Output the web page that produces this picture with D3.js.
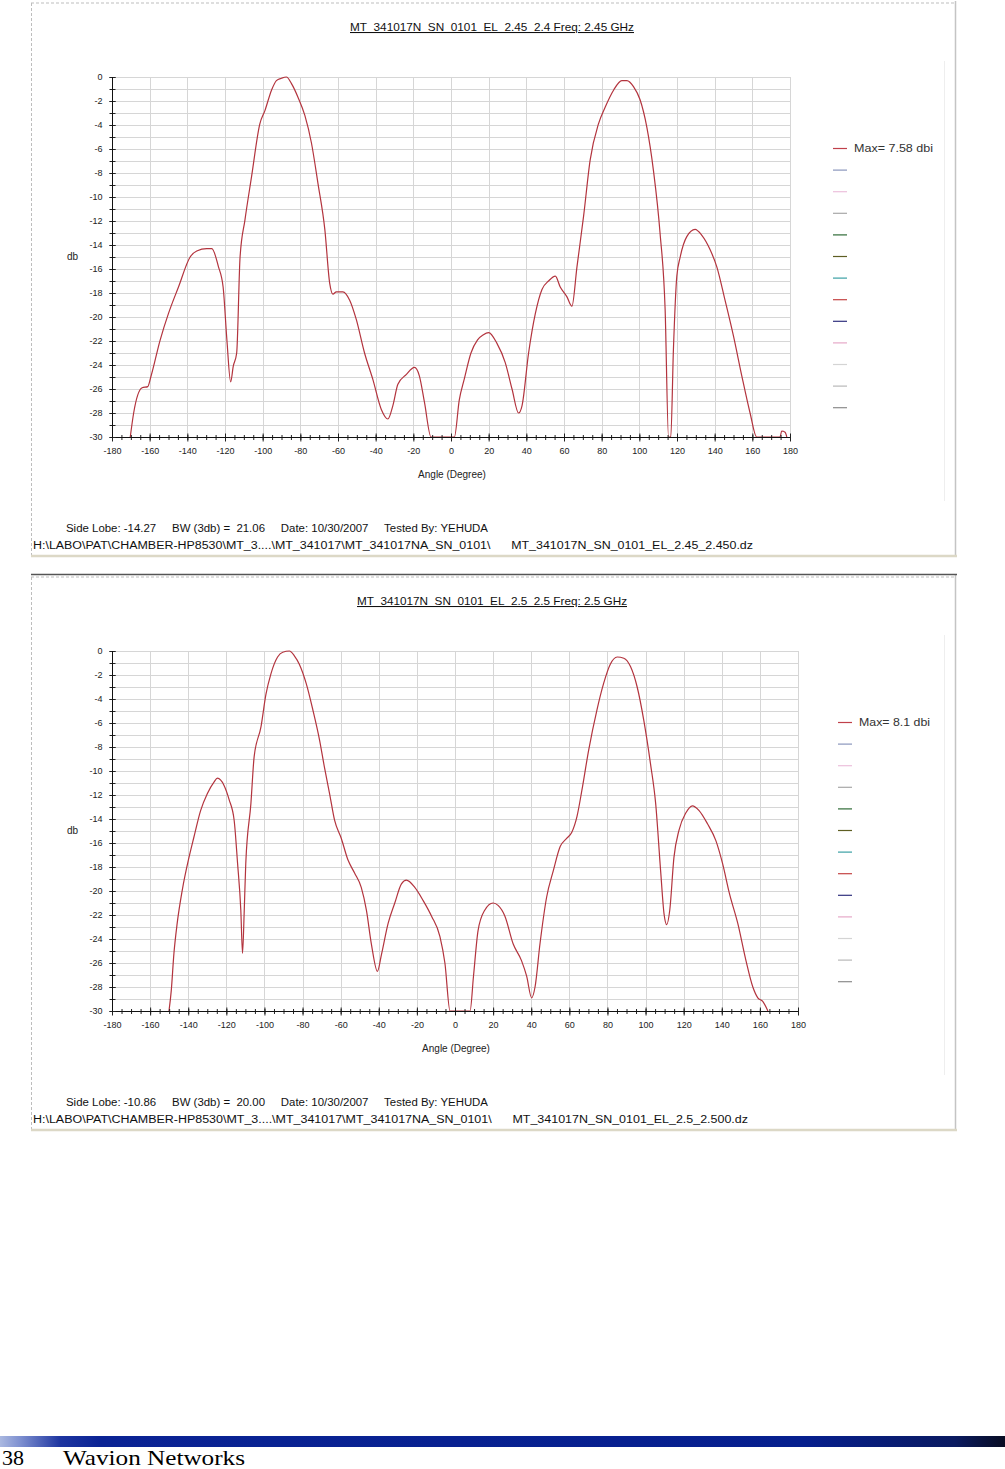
<!DOCTYPE html>
<html>
<head>
<meta charset="utf-8">
<script src="https://cdn.jsdelivr.net/npm/d3@7/dist/d3.min.js"></script>
<style>
  body { margin: 0; background: #fff; }
  svg { display: block; }
  .tick text { font-family: "Liberation Sans", Arial, sans-serif; font-size: 9px; fill: #222; }
</style>
</head>
<body>
<div id="page"></div>
<script>
// ---- data ----
var angleTicks = d3.range(-180, 181, 20),
    gainTicks = d3.range(-30, 1, 2);

// 2.45 GHz pattern (angle in degrees, gain in dB normalised)
var angle245 = [-170.3,-168.5,-164,-161,-159.4,-154.4,-150,-144.7,-138.5,-135,-129.7,-127,-123.5,-121,-119,-117,-115.6,-113.8,-112,-109.4,-105.9,-101.5,-98.8,-95.3,-92.7,-90,-87.4,-84.7,-81.2,-77.6,-74.1,-70.6,-67,-64.4,-62.7,-60.9,-57.4,-53.8,-50.3,-45.9,-41.5,-37,-33.5,-30.9,-28.2,-23.8,-19.4,-16.8,-14.1,-10.6,1.8,4.4,7,10.6,14.1,17,20,24.4,28.8,32.4,35.9,37.7,41.2,44.8,48.3,51.8,55.4,58,61.5,64.2,66.9,70.4,73.9,78.3,81.9,86.3,90.7,93.4,96.9,100.4,104,107.5,111,113.7,115.5,116.7,118.1,119.9,121.7,125.2,129.6,133.2,137.6,141.1,145.5,150,154.4,158.8,162.3,174.7,175.6,177.4,178.3];
var gain245 = [-30,-28,-25.9,-25.8,-25,-21.9,-19.7,-17.5,-15,-14.5,-14.3,-14.3,-15.8,-17.5,-21.9,-25.4,-24.1,-23,-15,-11.9,-8.3,-3.9,-2.8,-1.1,-0.3,-0.1,0,-0.55,-1.7,-3.2,-5.5,-8.9,-12.7,-17.2,-18.1,-17.9,-17.9,-18.6,-20.2,-23,-25.2,-27.7,-28.5,-27.4,-25.6,-24.8,-24.2,-24.9,-27.1,-30,-30,-26.9,-25.2,-23,-21.9,-21.5,-21.3,-22.2,-23.8,-26,-28,-27.4,-23,-19.7,-17.7,-17,-16.6,-17.5,-18.3,-19.1,-15.8,-11.6,-6.9,-3.9,-2.5,-1.1,-0.3,-0.3,-0.8,-1.9,-4.2,-7.8,-13,-19.4,-30,-30,-22.7,-16.6,-15,-13.3,-12.7,-13.2,-14.4,-15.8,-18.6,-21.6,-24.9,-28,-30,-30,-29.5,-29.6,-30];

// 2.5 GHz pattern
var angle25 = [-150.1,-148.9,-147.5,-145.8,-143.1,-139.6,-137,-133.5,-130,-126.4,-124.7,-121.2,-118.5,-115.9,-114.1,-112.4,-111.5,-110.6,-109.8,-107.1,-105.4,-101.8,-99.2,-96.6,-93.1,-90.4,-86.9,-84.3,-81.7,-78.1,-74.6,-71.1,-68.5,-65.8,-63.2,-59.7,-56.2,-52.7,-49.2,-46.5,-43.9,-40.7,-38.6,-35.1,-31.6,-28.1,-25.5,-21.1,-16.7,-12.3,-7.9,-5.3,-2.6,7.9,9.7,12.1,15.6,20,22.6,26.2,30.5,34.9,37.6,40.2,42,44.6,48.1,51.6,55.2,58.7,61.3,64,66.6,70.1,74.5,78,81.5,85.1,88.6,92.1,95.6,99.1,102.6,105.3,107.9,109.7,111.1,112.7,114.9,117.6,121.1,124.6,128.1,132.5,136.9,140.4,144,148.4,152.7,156.3,158.9,161.5,164.2];
var gain25 = [-30,-28.3,-25.2,-22.7,-19.9,-17.2,-15.5,-13.3,-11.9,-10.9,-10.6,-11.2,-12.4,-14.1,-17.7,-21.6,-25.2,-21.6,-17.7,-12.7,-8.8,-6.3,-3.6,-1.9,-0.5,-0.1,0,-0.4,-1.1,-2.7,-4.9,-7.4,-9.7,-11.9,-14.1,-15.6,-17.4,-18.5,-19.7,-21.6,-24.4,-26.7,-25.3,-22.7,-21,-19.4,-19.1,-19.7,-20.8,-22.1,-23.8,-26,-30,-30,-27.1,-23.3,-21.6,-21,-21.2,-22.1,-24.4,-25.8,-27.1,-28.9,-28,-24.4,-20.5,-18.3,-16.3,-15.6,-15.1,-13.8,-11.6,-8.3,-4.9,-2.7,-1.1,-0.5,-0.6,-1.3,-3,-5.8,-9.4,-12.7,-18.3,-21.9,-22.8,-21.6,-17.2,-14.9,-13.5,-12.9,-13.3,-14.4,-15.8,-17.7,-20.2,-22.7,-25.8,-28,-28.9,-29.2,-30];

var legendColors = ["#c0404a","#8a96bc","#ecc0dc","#a8a8a8","#2e6a36","#5e5e22","#3aa0a4","#c44444","#30307e","#e6a8c8","#d4d4d4","#b8b8b8","#8c8c8c"];

var titles = ["MT_341017N_SN_0101_EL_2.45_2.4  Freq: 2.45 GHz", "MT_341017N_SN_0101_EL_2.5_2.5  Freq: 2.5 GHz"];
var maxLabels = ["Max= 7.58 dbi", "Max= 8.1 dbi"];
var infoLines = ["Side Lobe: -14.27     BW (3db) =  21.06     Date: 10/30/2007     Tested By: YEHUDA",
                 "Side Lobe: -10.86     BW (3db) =  20.00     Date: 10/30/2007     Tested By: YEHUDA"];
var pathLines = ["H:\\LABO\\PAT\\CHAMBER-HP8530\\MT_3....\\MT_341017\\MT_341017NA_SN_0101\\      MT_341017N_SN_0101_EL_2.45_2.450.dz",
                 "H:\\LABO\\PAT\\CHAMBER-HP8530\\MT_3....\\MT_341017\\MT_341017NA_SN_0101\\      MT_341017N_SN_0101_EL_2.5_2.500.dz"];

var W = 1005, H = 1469;
var svg = d3.select("#page").append("svg").attr("width", W).attr("height", H);
svg.append("rect").attr("width", W).attr("height", H).attr("fill", "#fff");

var font = "'Liberation Sans', Arial, sans-serif";
var fmt = function(d) { return String(d); };   // plain hyphen minus like the original

function drawPanel(p) {
    var top = p.top;
    var g = svg.append("g");

    // panel frame
    g.append("line").attr("x1", 31).attr("x2", 956).attr("y1", top + 2).attr("y2", top + 2)
        .attr("stroke", "#bdbdbd").attr("stroke-dasharray", "3,2");
    g.append("line").attr("x1", 31.5).attr("x2", 31.5).attr("y1", top + 2).attr("y2", top + 556)
        .attr("stroke", "#bdbdbd").attr("stroke-dasharray", "3,2");
    g.append("line").attr("x1", 955.5).attr("x2", 955.5).attr("y1", top).attr("y2", top + 556)
        .attr("stroke", "#c4c4c4").attr("stroke-width", 1.5);
    g.append("line").attr("x1", 31).attr("x2", 957).attr("y1", top + 555).attr("y2", top + 555)
        .attr("stroke", "#dcd8c6").attr("stroke-width", 2.5);
    if (p.topLine) {
        g.append("line").attr("x1", 31).attr("x2", 957).attr("y1", top - 0.5).attr("y2", top - 0.5)
            .attr("stroke", "#555").attr("stroke-width", 1.5);
    }
    // faint legend area edge
    g.append("line").attr("x1", 944.5).attr("x2", 944.5).attr("y1", top + 60).attr("y2", top + 500)
        .attr("stroke", "#eeeeee");

    var x = d3.scaleLinear().domain([-180, 180]).range([112, p.right]);
    var y = d3.scaleLinear().domain([-30, 0]).range([p.y0, p.y0 - 360]);

    // title
    g.append("text").attr("x", (350 + 634) / 2).attr("y", top + 30)
        .attr("text-anchor", "middle").attr("font-family", font).attr("font-size", 10.5)
        .attr("text-decoration", "underline").attr("fill", "#111")
        .attr("textLength", p.titleLen).attr("lengthAdjust", "spacingAndGlyphs")
        .text(p.title);

    // grid
    var grid = g.append("g").attr("stroke", "#d6d6d6").attr("stroke-width", 1);
    grid.selectAll("line.h").data(d3.range(-30, 1, 1)).enter().append("line")
        .attr("x1", x(-180)).attr("x2", x(180))
        .attr("y1", function(d) { return Math.round(y(d)) + 0.5; })
        .attr("y2", function(d) { return Math.round(y(d)) + 0.5; });
    grid.selectAll("line.v").data(angleTicks).enter().append("line")
        .attr("y1", y(0)).attr("y2", y(-30))
        .attr("x1", function(d) { return Math.round(x(d)) + 0.5; })
        .attr("x2", function(d) { return Math.round(x(d)) + 0.5; });

    // pattern curve
    var pts = p.angle.map(function(a, i) { return [a, p.gain[i]]; });
    var line = d3.line().x(function(d) { return x(d[0]); }).y(function(d) { return y(d[1]); })
        .curve(d3.curveMonotoneX);
    g.append("path").datum(pts).attr("d", line).attr("fill", "none")
        .attr("stroke", "#b3343e").attr("stroke-width", 1.2);

    // x axis: minor and major ticks crossing the baseline
    var y0 = Math.round(y(-30)) + 0.5;
    g.append("g").attr("transform", "translate(0," + (y0 - 2.5) + ")")
        .call(d3.axisBottom(x).tickValues(d3.range(-180, 181, 5)).tickSize(5).tickFormat(""))
        .call(function(s) { s.select(".domain").remove(); s.selectAll("line").attr("stroke", "#222"); });
    g.append("g").attr("transform", "translate(0," + (y0 - 4) + ")")
        .call(d3.axisBottom(x).tickValues(angleTicks).tickSize(8).tickPadding(6).tickFormat(fmt))
        .call(function(s) { s.select(".domain").remove(); s.selectAll("line").attr("stroke", "#222"); });
    g.append("line").attr("x1", x(-180)).attr("x2", x(180)).attr("y1", y0).attr("y2", y0)
        .attr("stroke", "#111");

    // y axis
    var x0 = Math.round(x(-180)) + 0.5;
    g.append("g").attr("transform", "translate(" + (x0 + 3) + ",0)")
        .call(d3.axisLeft(y).tickValues(d3.range(-30, 1, 1)).tickSize(6).tickFormat(""))
        .call(function(s) { s.select(".domain").remove(); s.selectAll("line").attr("stroke", "#222"); });
    g.append("g").attr("transform", "translate(" + (x0 + 3) + ",0)")
        .call(d3.axisLeft(y).tickValues(gainTicks).tickSize(6).tickPadding(7).tickFormat(fmt))
        .call(function(s) { s.select(".domain").remove(); s.selectAll("line").attr("stroke", "#222"); });
    g.append("line").attr("x1", x0).attr("x2", x0).attr("y1", y(0)).attr("y2", y0)
        .attr("stroke", "#111");

    // axis titles
    g.append("text").attr("x", 67).attr("y", y(-15) + 3).attr("font-family", font)
        .attr("font-size", 10).attr("fill", "#222").text("db");
    g.append("text").attr("x", (x(-180) + x(180)) / 2 + 1).attr("y", y0 + 40)
        .attr("text-anchor", "middle").attr("font-family", font).attr("font-size", 10)
        .attr("fill", "#222").text("Angle (Degree)");

    // legend
    var lg = g.append("g");
    lg.selectAll("line").data(legendColors).enter().append("line")
        .attr("x1", p.legX).attr("x2", p.legX + 14)
        .attr("y1", function(d, i) { return p.legY + i * 21.6 + 0.5; })
        .attr("y2", function(d, i) { return p.legY + i * 21.6 + 0.5; })
        .attr("stroke", function(d) { return d; }).attr("stroke-width", 1.2);
    lg.append("text").attr("x", p.legX + 21).attr("y", p.legY + 4)
        .attr("font-family", font).attr("font-size", 11.5).attr("fill", "#333")
        .attr("textLength", p.maxLen).attr("lengthAdjust", "spacingAndGlyphs")
        .text(p.maxLabel);

    // info lines
    g.append("text").attr("x", 66).attr("y", top + 531).attr("font-family", font)
        .attr("font-size", 10).attr("fill", "#111").attr("xml:space", "preserve")
        .attr("textLength", 422).attr("lengthAdjust", "spacingAndGlyphs").text(p.info);
    g.append("text").attr("x", 33).attr("y", top + 548).attr("font-family", font)
        .attr("font-size", 10).attr("fill", "#111").attr("xml:space", "preserve")
        .attr("textLength", p.pathLen).attr("lengthAdjust", "spacingAndGlyphs").text(p.path);
}

drawPanel({ top: 1, right: 790, y0: 437, angle: angle245, gain: gain245, title: titles[0], titleLen: 284,
            maxLabel: maxLabels[0], maxLen: 79, legX: 833, legY: 148, info: infoLines[0], path: pathLines[0], pathLen: 720 });
drawPanel({ top: 575, right: 798, y0: 1011, angle: angle25, gain: gain25, title: titles[1], titleLen: 270,
            maxLabel: maxLabels[1], maxLen: 71, legX: 838, legY: 722, info: infoLines[1], path: pathLines[1], pathLen: 715, topLine: true });

// page footer band
var defs = svg.append("defs");
var grad = defs.append("linearGradient").attr("id", "band");
[["0%", "#aab8e0"], ["2%", "#7e90d0"], ["6%", "#1e35a0"], ["10%", "#0a2394"], ["80%", "#061f8e"], ["95%", "#0a1a60"], ["100%", "#080c22"]]
    .forEach(function(s) { grad.append("stop").attr("offset", s[0]).attr("stop-color", s[1]); });
svg.append("rect").attr("x", 0).attr("y", 1436).attr("width", 1005).attr("height", 11).attr("fill", "url(#band)");
var serif = "'Liberation Serif', 'Times New Roman', serif";
svg.append("text").attr("x", 2).attr("y", 1465).attr("font-family", serif)
    .attr("font-size", 22).attr("fill", "#000").text("38");
svg.append("text").attr("x", 63).attr("y", 1465).attr("font-family", serif)
    .attr("font-size", 22).attr("fill", "#000")
    .attr("textLength", 182).attr("lengthAdjust", "spacingAndGlyphs").text("Wavion Networks");
</script>
</body>
</html>
